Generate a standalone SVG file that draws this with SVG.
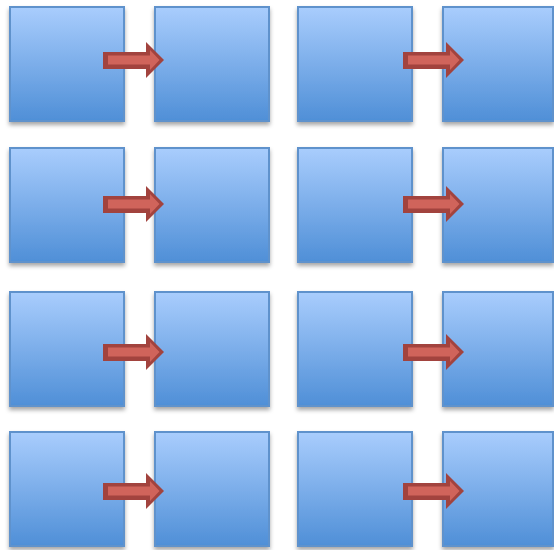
<svg xmlns="http://www.w3.org/2000/svg" width="554" height="550" viewBox="0 0 554 550">
<defs>
<linearGradient id="g" x1="0" y1="0" x2="0" y2="1">
<stop offset="0" stop-color="#A9CDFD"/>
<stop offset="1" stop-color="#4F8FD7"/>
</linearGradient>
<filter id="sh" x="-10%" y="-10%" width="130%" height="130%">
<feDropShadow dx="0" dy="3" stdDeviation="2" flood-color="#000" flood-opacity="0.35"/>
</filter>
<g id="arrow">
<path d="M103,52 H146 V42 L164,60 L146,78 V69 H103 Z" fill="#A2433E"/>
<path d="M108,55.5 H150 V50 L159.5,60 L150,70 V64.5 H108 Z" fill="#D0645B"/>
</g>
</defs>
<style>
.box{fill:url(#g);stroke:#5E92CC;stroke-width:2;filter:url(#sh)}
</style>
<g id="nodes">
<g id="r1c1"><rect class="box" x="10" y="7" width="114" height="114"/></g>
<g id="r1c2"><rect class="box" x="155" y="7" width="114" height="114"/></g>
<g id="r1c3"><rect class="box" x="298" y="7" width="114" height="114"/></g>
<g id="r1c4"><rect class="box" x="443" y="7" width="110" height="114"/></g>
<g id="r2c1"><rect class="box" x="10" y="148" width="114" height="114"/></g>
<g id="r2c2"><rect class="box" x="155" y="148" width="114" height="114"/></g>
<g id="r2c3"><rect class="box" x="298" y="148" width="114" height="114"/></g>
<g id="r2c4"><rect class="box" x="443" y="148" width="110" height="114"/></g>
<g id="r3c1"><rect class="box" x="10" y="292" width="114" height="114"/></g>
<g id="r3c2"><rect class="box" x="155" y="292" width="114" height="114"/></g>
<g id="r3c3"><rect class="box" x="298" y="292" width="114" height="114"/></g>
<g id="r3c4"><rect class="box" x="443" y="292" width="110" height="114"/></g>
<g id="r4c1"><rect class="box" x="10" y="432" width="114" height="114"/></g>
<g id="r4c2"><rect class="box" x="155" y="432" width="114" height="114"/></g>
<g id="r4c3"><rect class="box" x="298" y="432" width="114" height="114"/></g>
<g id="r4c4"><rect class="box" x="443" y="432" width="110" height="114"/></g>
</g>
<g id="connectors">
<use href="#arrow"/>
<use href="#arrow" transform="translate(300,0)"/>
<use href="#arrow" transform="translate(0,144)"/>
<use href="#arrow" transform="translate(300,144)"/>
<use href="#arrow" transform="translate(0,292)"/>
<use href="#arrow" transform="translate(300,292)"/>
<use href="#arrow" transform="translate(0,431)"/>
<use href="#arrow" transform="translate(300,431)"/>
</g>
</svg>
